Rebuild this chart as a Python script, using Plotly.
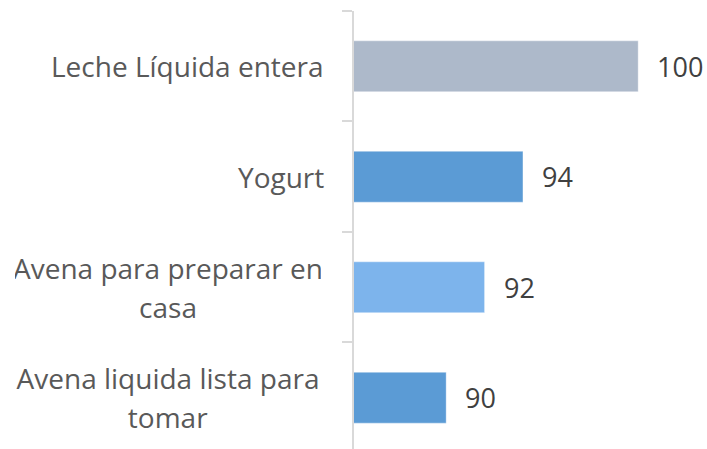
import plotly.graph_objects as go

categories = ["Leche Líquida entera", "Yogurt", "Avena para preparar en<br>casa", "Avena liquida lista para<br>tomar"]
values = [100, 94, 92, 90]
colors = ["#ADB9CA", "#5B9BD5", "#7DB4EC", "#5B9BD5"]

FONT = "Open Sans"
LINE_H = 39
BLOCK_W = 306

fig = go.Figure()
fig.add_trace(go.Bar(
    y=categories, x=values, orientation="h",
    marker=dict(color=colors, line=dict(color="rgba(255,255,255,0.35)", width=1)),
    width=0.46, hoverinfo="skip",
))

annotations = []
for c, v in zip(categories, values):
    annotations.append(dict(x=v, y=c, xref="x", yref="y", text=str(v), showarrow=False,
                            xanchor="left", yanchor="middle", xshift=17,
                            font=dict(family=FONT, size=27, color="#404040")))
    lines = c.split("<br>")
    n = len(lines)
    for i, line in enumerate(lines):
        ann = dict(x=0, y=c, xref="paper", yref="y", text=line, showarrow=False,
                   xanchor="right", yanchor="middle", xshift=-28,
                   yshift=((n - 1) / 2 - i) * LINE_H, align="center",
                   font=dict(family=FONT, size=28, color="#595959"))
        if n > 1:
            ann["width"] = BLOCK_W
            ann["xshift"] = -31
        annotations.append(ann)

fig.update_layout(
    width=707, height=449,
    margin=dict(l=354, r=0, t=11, b=0),
    paper_bgcolor="white", plot_bgcolor="white",
    showlegend=False,
    annotations=annotations,
    xaxis=dict(range=[85.2, 103.585], showgrid=False, zeroline=False, showticklabels=False,
               showline=False, ticks=""),
    yaxis=dict(type="category", range=[3.464, -0.5], showgrid=False, zeroline=False,
               showticklabels=False, showline=True, linecolor="#D9D9D9", linewidth=1.5,
               ticks="outside", ticklen=10, tickcolor="#D9D9D9", tickwidth=1.5,
               tickson="boundaries"),
)

fig.write_html("out.html", config={"displayModeBar": False},
               post_script="document.body.style.margin='0';document.body.style.overflow='hidden';")
